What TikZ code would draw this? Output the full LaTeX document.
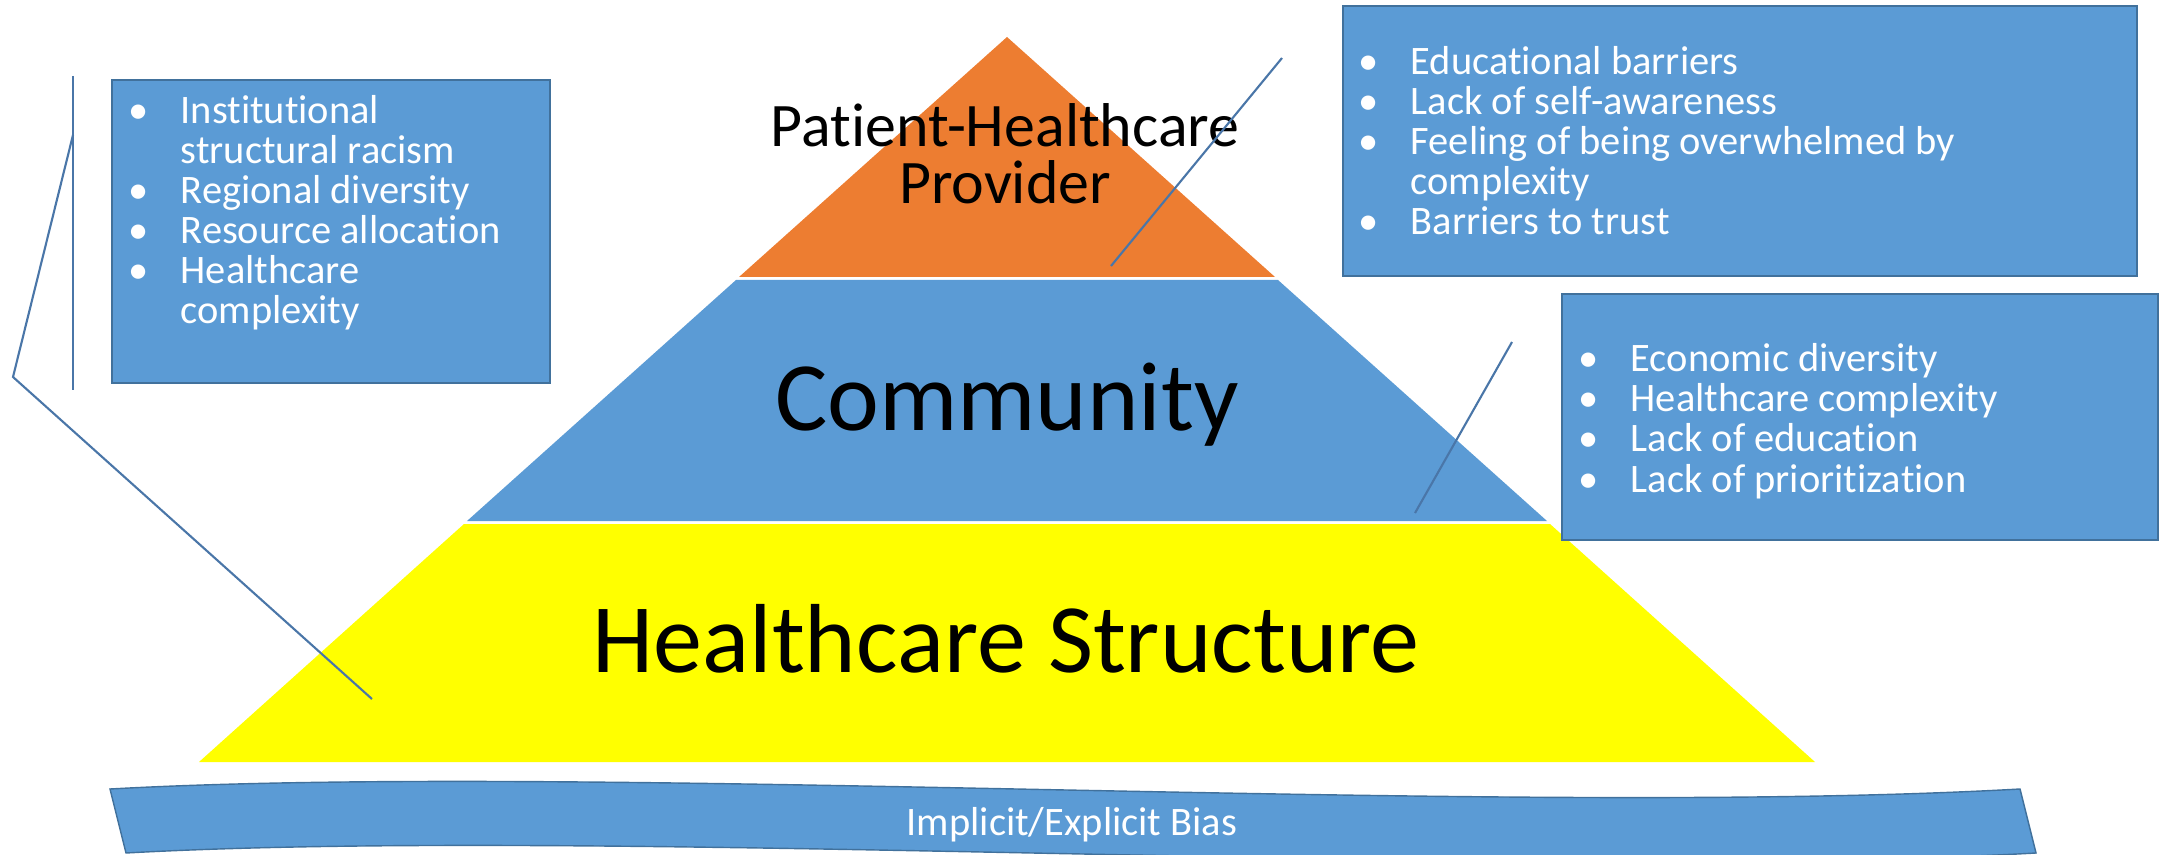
\documentclass[tikz,border=0pt]{standalone}
\usepackage{fontspec}
\setmainfont{Carlito}[Ligatures=NoCommon]
\definecolor{pyrorange}{HTML}{ED7D31}
\definecolor{pyrblue}{HTML}{5B9BD5}
\definecolor{pyryellow}{HTML}{FFFF00}
\definecolor{edgeblue}{HTML}{41719C}
\definecolor{calloutblue}{HTML}{4A76A8}
\newcommand{\bul}{\makebox[14.8pt][l]{\textbullet}}
\newcommand{\ind}{\hspace*{14.8pt}}
\begin{document}
\begin{tikzpicture}[x=0.01cm,y=-0.01cm,
  listbox/.style={fill=pyrblue,draw=edgeblue,line width=0.5pt},
  listtext/.style={anchor=base west,align=left,text=white,inner sep=0pt,font=\fontsize{11.5}{11.4}\selectfont},
  layertext/.style={anchor=base,inner sep=0pt},
  callout/.style={draw=calloutblue,line width=0.6pt}]
\useasboundingbox (0,0) rectangle (2161,855);
\clip (0,0) rectangle (2161,855);
% pyramid
\fill[pyrorange] (739,277) -- (1007,37) -- (1275,277) -- cycle;
\fill[pyrblue] (736,280) -- (1278,280) -- (1547,521) -- (467,521) -- cycle;
\fill[pyryellow] (464,524) -- (1550,524) -- (1815,762) -- (199,762) -- cycle;
\node[layertext,font=\fontsize{17.6}{16.2}\selectfont] (top1) at (1005,147) {Patient-Healthcare};
\node[layertext,font=\fontsize{17.6}{16.2}\selectfont] (top2) at (1005,204) {Provider};
\node[layertext,font=\fontsize{27.9}{30}\selectfont] (mid) at (1007,430) {Community};
\node[layertext,font=\fontsize{27.9}{30}\selectfont] (bottom) at (1006,672) {Healthcare Structure};
% bias band
\path[fill=pyrblue,draw=edgeblue,line width=0.4pt] (110,789) .. controls (600,762) and (1500,818) .. (2020,789)
  -- (2036,853) .. controls (1516,882) and (616,826) .. (126,853) -- cycle;
\node[layertext,text=white,font=\fontsize{11.5}{12}\selectfont] (bias) at (1072,835) {Implicit/Explicit Bias};
% lists (anchored at the last line)
\path[listbox] (112,80) rectangle (550,383);
\node[listtext] (leftlist) at (128,324) {\bul Institutional\\\ind structural racism\\\bul Regional diversity\\\bul Resource allocation\\\bul Healthcare\\\ind complexity};
\path[listbox] (1343,6) rectangle (2137,276);
\node[listtext] (toplist) at (1358,235) {\bul Educational barriers\\\bul Lack of self-awareness\\\bul Feeling of being overwhelmed by\\\ind complexity\\\bul Barriers to trust};
\path[listbox] (1562,294) rectangle (2158,540);
\node[listtext] (rightlist) at (1578,492) {\bul Economic diversity\\\bul Healthcare complexity\\\bul Lack of education\\\bul Lack of prioritization};
% callout lines
\coordinate (l1) at (73,76);
\coordinate (l2) at (73,390);
\coordinate (l3) at (73,135);
\coordinate (l4) at (13,377);
\coordinate (l5) at (372,699);
\coordinate (t1) at (1282,58);
\coordinate (t2) at (1111,266);
\coordinate (r1) at (1512,342);
\coordinate (r2) at (1415,513);
\path[callout] (l1) -- (l2);
\path[callout] (l3) -- (l4) -- (l5);
\path[callout] (t1) -- (t2);
\path[callout] (r1) -- (r2);
\end{tikzpicture}
\end{document}
